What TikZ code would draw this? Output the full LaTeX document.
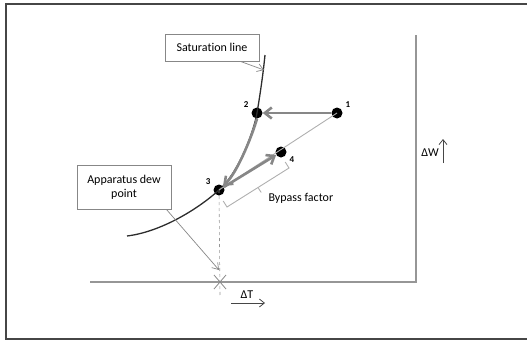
\documentclass[tikz,border=0pt]{standalone}
\usepackage{fontspec}
\setmainfont{Carlito}[Ligatures=CommonOff]
\definecolor{framegray}{RGB}{70,70,70}
\definecolor{axisgray}{RGB}{150,150,150}
\definecolor{pathgray}{RGB}{135,135,135}
\definecolor{linegray}{RGB}{175,175,175}
\definecolor{curvedark}{RGB}{45,45,45}
\usetikzlibrary{positioning,arrows.meta,calc}

\begin{document}
\begin{tikzpicture}[
    x=1pt,y=-1pt,
    callout/.style={rectangle,draw=pathgray,line width=0.8pt,fill=white,align=center,font=\fontsize{12}{14}\selectfont,inner sep=0pt},
    statept/.style={circle,fill=black,inner sep=0pt,minimum width=10pt,minimum height=11pt},
    ptlabel/.style={font=\fontsize{9}{10}\selectfont\bfseries},
    process/.style={-{Straight Barb[length=7pt,width=11pt]},line width=2.6pt,pathgray},
    pointer/.style={-{Straight Barb[length=6pt,width=8pt]},line width=0.7pt,pathgray},
    axis/.style={line width=1.8pt,axisgray},
    dirarrow/.style={-{Straight Barb[length=5pt,width=8pt]},line width=0.8pt,framegray}
]
    \useasboundingbox (0,0) rectangle (527,340);
    % outer frame
    \draw[framegray,line width=2pt] (530,4) -- (6,4) -- (6,339) -- (530,339);

    % axes
    \coordinate (origin) at (416,282);
    \draw[axis] (90,282) -- (origin) -- (416,35);

    % state points
    \node[statept] (p1) at (337,113) {};
    \node[statept] (p2) at (257,113) {};
    \node[statept] (p3) at (219,190) {};
    \node[statept] (p4) at (281,152) {};
    \node[ptlabel,above right=-2pt and 1pt of p1] {1};
    \node[ptlabel,above left=-2pt and 1pt of p2] {2};
    \node[ptlabel,above left=-2pt and 1pt of p3] {3};
    \node[ptlabel,below right=-3pt and 1pt of p4] {4};

    % dew point projection
    \coordinate (dewx) at (220,282);
    \draw[axisgray,dashed,line width=0.6pt] (p3.center) -- (220,296);
    \draw[pathgray,line width=0.8pt] ($(dewx)+(-6,-7)$) -- ($(dewx)+(6,7)$);
    \draw[pathgray,line width=0.8pt] ($(dewx)+(6,-7)$) -- ($(dewx)+(-6,7)$);

    % saturation line
    \draw[curvedark,line width=1.3pt] (265,55) .. controls (263,75) and (260,95) .. (p2.center)
        .. controls (254,131) and (238,174) .. (p3.center)
        .. controls (197,210) and (160,232) .. (127,236);

    % process lines
    \draw[linegray,line width=0.9pt] (p1.center) -- (p3.center);
    \draw[process] (p1) -- (p2);
    \draw[process] (p2.south) .. controls (253,133) and (238,172) .. (p3.north east);
    \draw[process] (p3) -- (p4);

    % bypass factor bracket
    \coordinate (bra) at (227,207);
    \coordinate (brb) at (289,168);
    \draw[linegray,line width=0.9pt] ($(bra)+(-3.8,-6)$) -- (bra) -- (brb) -- ($(brb)+(-3.8,-6)$);
    \draw[linegray,line width=0.9pt] ($(bra)!0.5!(brb)$) -- ++(3.2,5);
    \node[font=\fontsize{12}{14}\selectfont,anchor=west] (bypass) at (265,198) {Bypass factor};

    % callouts
    \node[callout,minimum width=94pt,minimum height=27pt] (satbox) at (212,47.5) {Saturation line};
    \coordinate (sattip) at (264,70);
    \draw[pointer] ([xshift=-19pt]satbox.south east) -- (sattip);

    \node[callout,minimum width=94pt,minimum height=44pt] (adpbox) at (124,187) {Apparatus dew\\point};
    \coordinate (adptip) at (219,270);
    \draw[pointer] ([xshift=-5pt]adpbox.south east) -- (adptip);

    % axis labels
    \node[font=\fontsize{12}{14}\selectfont,anchor=east,inner sep=0pt] (dw) at (439,153) {ΔW};
    \coordinate (dwtip) at (443,139);
    \draw[dirarrow] (443,163) -- (dwtip);
    \node[font=\fontsize{12}{14}\selectfont,inner sep=0pt] (dt) at (247,295) {ΔT};
    \coordinate (dttip) at (265,303);
    \draw[dirarrow] (231,303) -- (dttip);
\end{tikzpicture}
\end{document}
